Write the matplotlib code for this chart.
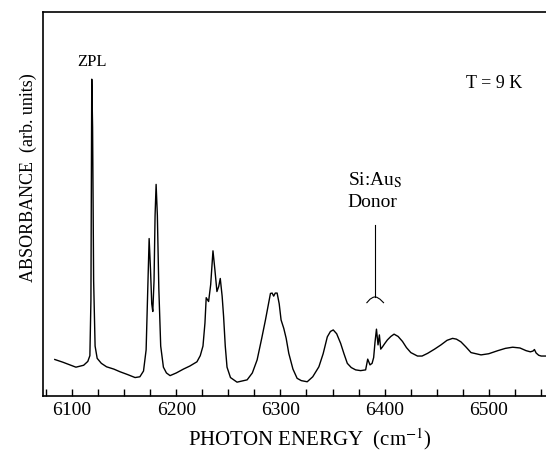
import matplotlib.pyplot as plt
from matplotlib.ticker import MultipleLocator

# spectrum (photon energy in cm^-1, absorbance in arb. units)
energy = [6083.3, 6091.0, 6103.6, 6111.0, 6115.0, 6117.0, 6118.0, 6118.8, 6119.6,
          6120.6, 6122.0, 6124.0, 6128.0, 6133.0, 6140.0, 6146.0, 6153.0, 6160.4,
          6165.0, 6168.5, 6171.0, 6172.8, 6173.9, 6175.2, 6176.4, 6177.4, 6178.6,
          6179.6, 6180.6, 6181.8, 6183.2, 6185.0, 6187.6, 6190.5, 6194.0, 6200.0,
          6206.8, 6213.0, 6219.8, 6223.0, 6225.6, 6227.5, 6228.7, 6231.0, 6233.0,
          6235.2, 6237.0, 6239.0, 6240.7, 6242.2, 6244.0, 6245.4, 6247.0, 6248.7,
          6252.0, 6258.3, 6268.0, 6273.0, 6277.6, 6282.0, 6285.6, 6288.5, 6290.4,
          6292.0, 6293.5, 6295.0, 6296.8, 6298.8, 6300.6, 6303.2, 6305.5, 6308.0,
          6312.0, 6316.0, 6320.0, 6325.7, 6331.0, 6336.9, 6341.0, 6345.0, 6348.0,
          6350.7, 6354.0, 6357.8, 6361.0, 6364.2, 6368.0, 6372.2, 6377.0, 6381.8,
          6383.0, 6383.8, 6385.0, 6386.0, 6388.0, 6389.5, 6390.8, 6392.2, 6393.7,
          6395.0, 6396.3, 6398.0, 6400.0, 6402.7, 6406.0, 6409.1, 6413.0, 6417.2,
          6421.0, 6425.2, 6431.6, 6436.0, 6441.3, 6448.0, 6454.1, 6460.0, 6465.3,
          6469.0, 6473.3, 6478.0, 6483.0, 6492.6, 6500.0, 6508.7, 6516.0, 6523.0,
          6530.0, 6535.9, 6540.0, 6542.5, 6543.9, 6545.5, 6548.0, 6550.4, 6556.0]
absorbance = [0.095, 0.088, 0.075, 0.080, 0.090, 0.105, 0.250, 0.825, 0.700,
              0.300, 0.130, 0.098, 0.085, 0.076, 0.070, 0.063, 0.056, 0.048,
              0.050, 0.065, 0.120, 0.300, 0.410, 0.330, 0.240, 0.220, 0.300,
              0.470, 0.551, 0.470, 0.280, 0.130, 0.075, 0.060, 0.053, 0.060,
              0.070, 0.078, 0.089, 0.105, 0.130, 0.190, 0.256, 0.246, 0.290,
              0.378, 0.330, 0.272, 0.285, 0.306, 0.260, 0.207, 0.130, 0.075,
              0.048, 0.036, 0.042, 0.060, 0.094, 0.150, 0.198, 0.240, 0.267,
              0.268, 0.260, 0.268, 0.268, 0.240, 0.198, 0.176, 0.150, 0.111,
              0.070, 0.046, 0.040, 0.037, 0.050, 0.076, 0.110, 0.154, 0.168,
              0.172, 0.162, 0.137, 0.110, 0.085, 0.074, 0.068, 0.066, 0.068,
              0.085, 0.096, 0.088, 0.081, 0.085, 0.100, 0.140, 0.174, 0.133,
              0.159, 0.122, 0.128, 0.136, 0.146, 0.155, 0.161, 0.155, 0.142,
              0.126, 0.113, 0.104, 0.104, 0.111, 0.122, 0.133, 0.145, 0.150,
              0.148, 0.141, 0.128, 0.113, 0.107, 0.110, 0.118, 0.124, 0.127,
              0.125, 0.118, 0.115, 0.117, 0.121, 0.112, 0.106, 0.104, 0.104]

major_ticks = [6100, 6200, 6300, 6400, 6500]

plt.rcParams['font.family'] = ['Liberation Serif', 'DejaVu Serif']
plt.rcParams['mathtext.fontset'] = 'stix'

fig = plt.figure(figsize=(5.46, 4.54), dpi=100)
ax = fig.add_axes([0.0788, 0.1278, 0.925, 0.8458])

ax.plot(energy, absorbance, color='black', linewidth=1.0)

ax.set_xlim(6072, 6557)
ax.set_ylim(0, 1)
ax.xaxis.set_minor_locator(MultipleLocator(25))
ax.set_xticks(major_ticks)
ax.set_xticklabels([str(t) for t in major_ticks])
ax.tick_params(axis='x', which='both', direction='in', length=5, width=1.0,
               labelsize=14, pad=4)
ax.tick_params(axis='y', left=False, labelleft=False)
ax.spines['right'].set_visible(False)
for s in ['left', 'bottom', 'top']:
    ax.spines[s].set_linewidth(1.2)

ax.set_xlabel('PHOTON ENERGY  (cm$^{-1}$)', fontsize=15)
ax.xaxis.set_label_coords(0.529, -0.078)
ax.set_ylabel('ABSORBANCE  (arb. units)', fontsize=13)
ax.yaxis.set_label_coords(-0.012, 0.568)

# annotations
ax.text(6119, 0.87, 'ZPL', fontsize=12, ha='center', va='center')
ax.text(6478, 0.815, 'T = 9 K', fontsize=13, ha='left', va='center')
ax.text(6364.5, 0.562, 'Si:Au$_\\mathrm{S}$', fontsize=14, ha='left', va='center')
ax.text(6364.5, 0.505, 'Donor', fontsize=14, ha='left', va='center')
ax.plot([6390.8, 6390.8], [0.445, 0.258], color='black', linewidth=0.8)
ax.plot([6383.0, 6386.0, 6389.0, 6390.8, 6392.6, 6395.6, 6399.0],
        [0.243, 0.252, 0.257, 0.258, 0.257, 0.252, 0.243],
        color='black', linewidth=0.8)

fig.savefig('out.png', dpi=100)
